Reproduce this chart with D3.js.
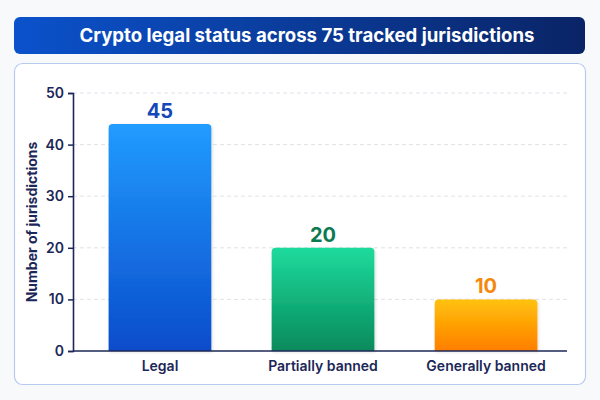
<!DOCTYPE html>
<html>
<head>
<meta charset="utf-8">
<script src="https://cdn.jsdelivr.net/npm/d3@7"></script>
<style>
  html, body { margin: 0; padding: 0; background: #f8f9fb; }
  svg { display: block; font-family: Inter, "Noto Sans", sans-serif; }
</style>
</head>
<body>
<div id="chart"></div>
<script>
// chart data
const categories = ['Legal', 'Partially banned', 'Generally banned'];
const barValues = [44, 20, 10];          // bar heights as drawn in the source
const valueLabels = ['45', '20', '10'];  // numbers printed above the bars
const yTicks = [0, 10, 20, 30, 40, 50];
const title = 'Crypto legal status across 75 tracked jurisdictions';
const yTitle = 'Number of jurisdictions';

const width = 600, height = 400;
const margin = { top: 93, right: 33, bottom: 49, left: 73 };

const barColors = [
    { top: '#219cff', bottom: '#0a4ccb', text: '#1447b8' },
    { top: '#1edb9c', bottom: '#078a5c', text: '#0b7a50' },
    { top: '#ffc20a', bottom: '#ff7e00', text: '#f5880a' }
];

const svg = d3.select('#chart').append('svg')
    .attr('width', width)
    .attr('height', height);

const defs = svg.append('defs');

const bannerGrad = defs.append('linearGradient').attr('id', 'banner-grad');
bannerGrad.append('stop').attr('offset', '0%').attr('stop-color', '#0b52cc');
bannerGrad.append('stop').attr('offset', '100%').attr('stop-color', '#0a2466');

barColors.forEach((c, i) => {
    const g = defs.append('linearGradient')
        .attr('id', 'bar-grad-' + i)
        .attr('x1', 0).attr('y1', 0).attr('x2', 0).attr('y2', 1);
    g.append('stop').attr('offset', '0%').attr('stop-color', c.top);
    g.append('stop').attr('offset', '100%').attr('stop-color', c.bottom);
});

const shadow = defs.append('filter').attr('id', 'bar-shadow')
    .attr('x', '-20%').attr('y', '-10%').attr('width', '140%').attr('height', '130%');
shadow.append('feDropShadow')
    .attr('dx', 1).attr('dy', 1).attr('stdDeviation', 1.5)
    .attr('flood-color', '#000').attr('flood-opacity', 0.15);

// title banner
svg.append('rect')
    .attr('x', 14).attr('y', 17)
    .attr('width', 571).attr('height', 37)
    .attr('rx', 6)
    .attr('fill', 'url(#banner-grad)');

svg.append('text')
    .attr('x', 307).attr('y', 42)
    .attr('text-anchor', 'middle')
    .attr('fill', '#fff')
    .attr('font-size', 18.6)
    .attr('font-weight', 700)
    .text(title);

// chart panel
svg.append('rect')
    .attr('x', 14.5).attr('y', 63.5)
    .attr('width', 571).attr('height', 321)
    .attr('rx', 8)
    .attr('fill', '#fff')
    .attr('stroke', '#b9caf0')
    .attr('stroke-width', 1.2);

const x = d3.scaleBand()
    .domain(categories)
    .range([margin.left + 3, width - margin.right + 3])
    .paddingInner(0.37)
    .paddingOuter(0.2);

const y = d3.scaleLinear()
    .domain([0, 50])
    .range([height - margin.bottom, margin.top]);

// grid lines
svg.append('g')
    .selectAll('line')
    .data(yTicks.filter(d => d > 0))
    .join('line')
    .attr('x1', margin.left)
    .attr('x2', width - margin.right)
    .attr('y1', d => y(d))
    .attr('y2', d => y(d))
    .attr('stroke', '#dfe2e8')
    .attr('stroke-dasharray', '4,3');

// bars
svg.append('g')
    .selectAll('path')
    .data(barValues)
    .join('path')
    .attr('d', (d, i) => {
        const x0 = x(categories[i]), w = x.bandwidth();
        const y0 = y(d), y1 = y(0), r = 4;
        return `M${x0},${y1}V${y0 + r}Q${x0},${y0} ${x0 + r},${y0}H${x0 + w - r}Q${x0 + w},${y0} ${x0 + w},${y0 + r}V${y1}Z`;
    })
    .attr('fill', (d, i) => `url(#bar-grad-${i})`)
    .attr('filter', 'url(#bar-shadow)');

// value labels
svg.append('g')
    .selectAll('text')
    .data(barValues)
    .join('text')
    .attr('x', (d, i) => x(categories[i]) + x.bandwidth() / 2)
    .attr('y', d => y(d) - 6)
    .attr('text-anchor', 'middle')
    .attr('font-size', 20)
    .attr('font-weight', 700)
    .attr('fill', (d, i) => barColors[i].text)
    .text((d, i) => valueLabels[i]);

// axes
const yAxis = svg.append('g')
    .attr('transform', `translate(${margin.left},0)`)
    .call(d3.axisLeft(y).tickValues(yTicks).tickSize(5).tickPadding(4));

const xAxis = svg.append('g')
    .attr('transform', `translate(0,${height - margin.bottom})`)
    .call(d3.axisBottom(x).tickSize(0).tickPadding(10));
xAxis.select('.domain')
    .attr('d', `M${margin.left},0H${width - margin.right}`);

[yAxis, xAxis].forEach(ax => {
    ax.select('.domain').attr('stroke', '#1c2757').attr('stroke-width', 1.6);
    ax.selectAll('.tick line').attr('stroke', '#1c2757').attr('stroke-width', 1.5);
    ax.selectAll('.tick text')
        .attr('fill', '#1c2757')
        .attr('font-family', 'Inter, "Noto Sans", sans-serif')
        .attr('font-weight', 600);
});
yAxis.selectAll('.tick text').attr('font-size', 14);
xAxis.selectAll('.tick text').attr('font-size', 14);

// y axis title
svg.append('text')
    .attr('transform', `translate(37,${(y(0) + y(50)) / 2}) rotate(-90)`)
    .attr('text-anchor', 'middle')
    .attr('fill', '#1c2757')
    .attr('font-size', 14)
    .attr('font-weight', 700)
    .text(yTitle);
</script>
</body>
</html>
